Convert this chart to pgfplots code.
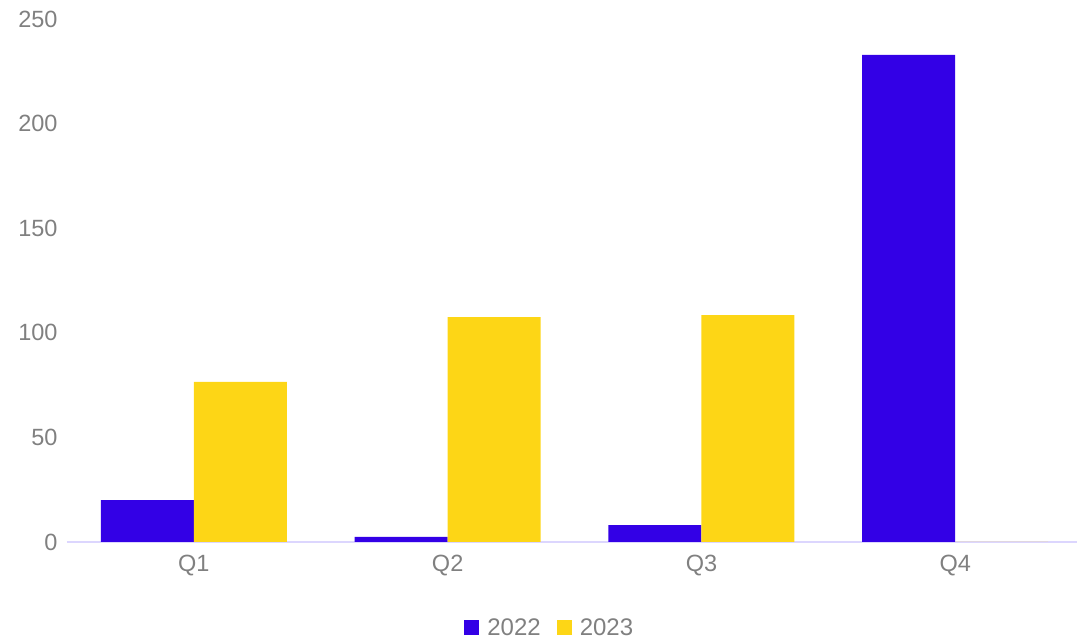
\documentclass[border=0pt]{standalone}
\usepackage{pgfplots}
\pgfplotsset{compat=1.18}
\usepackage{fontspec}
\setmainfont{Liberation Sans}
\definecolor{cblue}{RGB}{51,0,230}
\definecolor{cyellow}{RGB}{253,214,22}
\definecolor{ctext}{RGB}{128,128,128}
\definecolor{caxis}{RGB}{220,214,254}
\begin{document}
\begin{tikzpicture}
\begin{axis}[
  at={(0pt,0pt)}, anchor=south west,
  scale only axis,
  width=1010pt, height=523pt,
  ybar=0pt, bar width=93pt,
  xmin=-0.5, xmax=3.48,
  ymin=0, ymax=250,
  xtick=data,
  xticklabels={Q1,Q2,Q3,Q4},
  ytick={0,50,100,150,200,250},
  major tick length=0pt,
  axis x line*=bottom,
  axis y line*=left,
  x axis line style={draw=caxis, line width=1.5pt, -},
  y axis line style={draw=none},
  ticklabel style={font=\fontsize{23.5}{27}\selectfont, text=ctext},
  /pgf/number format/assume math mode=true,
  xticklabel style={yshift=-10pt},
  yticklabel style={xshift=-6pt},
  legend style={
    at={(axis description cs:0.478,-0.164)}, anchor=center,
    draw=none, fill=none,
    legend columns=-1,
    font=\fontsize{24}{27}\selectfont, text=ctext,
    /tikz/every even column/.append style={column sep=14pt},
  },
  legend image code/.code={\fill[#1] (0pt,-7.5pt) rectangle (15pt,7.5pt); \path (21pt,0pt);},
]
\addplot[fill=cblue, draw=none] coordinates {(0,20) (1,2.4) (2,8.1) (3,232.8)};
\addplot[fill=cyellow, draw=none] coordinates {(0,76.5) (1,107.5) (2,108.5) (3,0)};
\legend{2022,2023}
\end{axis}
\pgfresetboundingbox
\useasboundingbox (-67pt,-100pt) rectangle (1010pt,542pt);
\end{tikzpicture}
\end{document}
